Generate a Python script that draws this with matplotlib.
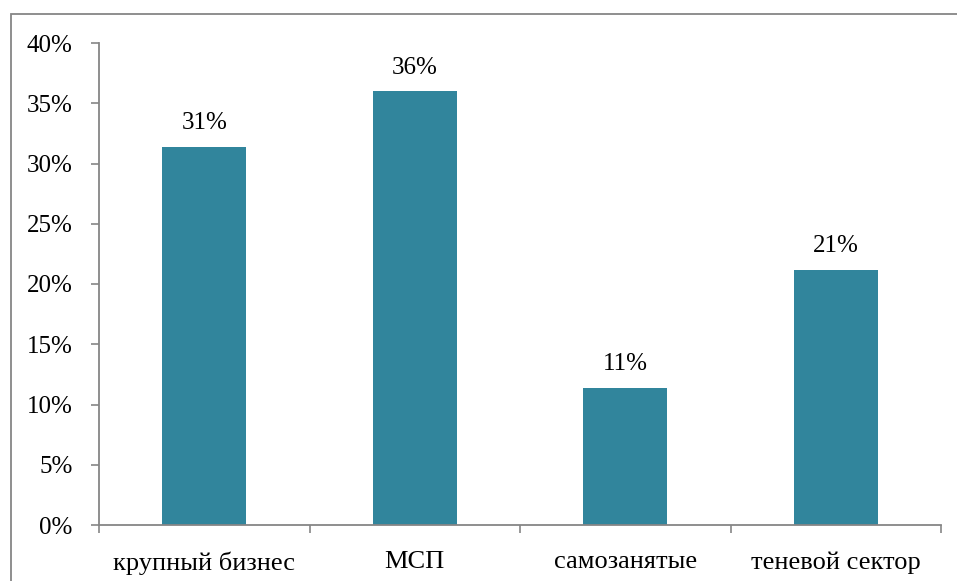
import matplotlib
matplotlib.use("Agg")
from matplotlib import pyplot as plt
from matplotlib.patches import Rectangle
from matplotlib.ticker import FuncFormatter

categories = ["крупный бизнес", "МСП", "самозанятые", "теневой сектор"]
values = [31.4, 36.0, 11.4, 21.2]
labels = ["31%", "36%", "11%", "21%"]
yticks = [0, 5, 10, 15, 20, 25, 30, 35, 40]

plt.rcParams['font.family'] = ['Liberation Serif', 'DejaVu Serif']
axis_color = "#868686"
bar_color = "#31859C"

fig = plt.figure(figsize=(9.57, 5.81), dpi=100)
# outer chart border (bottom and right edges fall outside the picture)
fig.patches.append(Rectangle((11 / 957, -0.1), 1.0, 1.1 - 14 / 581, transform=fig.transFigure,
	fill=False, edgecolor=axis_color, linewidth=1.3))

ax = fig.add_axes([99 / 957, 1 - 525 / 581, (941 - 99) / 957, (525 - 43) / 581])
x = list(range(len(categories)))
ax.bar(x, values, width=0.4, color=bar_color, zorder=2)

for xi, v, lab in zip(x, values, labels):
	ax.annotate(lab, (xi, v), xytext=(0, 9), textcoords="offset points",
		ha="center", va="bottom", fontsize=18, color="black")

ax.set_xlim(-0.5, len(categories) - 0.5)
ax.set_ylim(0, 40)
ax.set_yticks(yticks)
ax.yaxis.set_major_formatter(FuncFormatter(lambda v, p: "%d%%" % v))
ax.set_xticks(x)
ax.set_xticklabels(categories)
ax.set_xticks([i - 0.5 for i in range(len(categories) + 1)], minor=True)

ax.tick_params(axis="y", direction="out", length=6, width=1.2, color=axis_color,
	pad=13, labelsize=18, labelcolor="black")
ax.tick_params(axis="x", which="major", length=0, pad=19, labelsize=19, labelcolor="black")
ax.tick_params(axis="x", which="minor", direction="out", length=6, width=1.2, color=axis_color)

for side in ["top", "right"]:
	ax.spines[side].set_visible(False)
for side in ["left", "bottom"]:
	ax.spines[side].set_color(axis_color)
	ax.spines[side].set_linewidth(1.3)

fig.savefig("out.png", dpi=100)
